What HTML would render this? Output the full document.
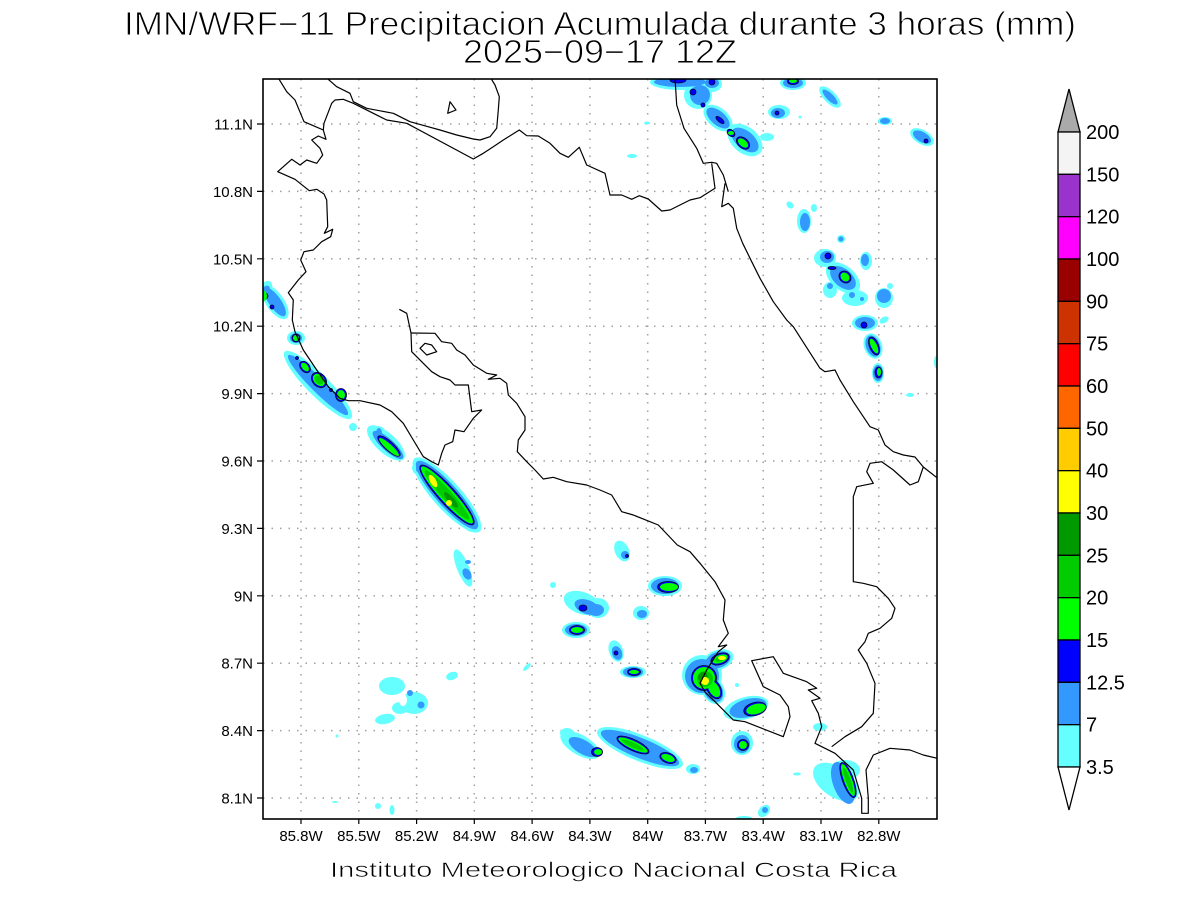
<!DOCTYPE html>
<html><head><meta charset="utf-8"><style>
html,body{margin:0;padding:0;background:#fff;}
svg{display:block;}
text{font-family:"Liberation Sans",sans-serif;fill:#000;}
</style></head><body>
<svg width="1200" height="900" viewBox="0 0 1200 900" xmlns="http://www.w3.org/2000/svg">
<defs><clipPath id="pc"><rect x="263" y="79" width="674" height="740"/></clipPath></defs>
<rect width="1200" height="900" fill="#fff"/>

<!-- titles -->
<text x="124" y="35" font-size="33" textLength="952" lengthAdjust="spacingAndGlyphs" fill="#111" stroke="#fff" stroke-width="0.9">IMN/WRF−11 Precipitacion Acumulada durante 3 horas (mm)</text>
<text x="463" y="63" font-size="33" textLength="274" lengthAdjust="spacingAndGlyphs" fill="#111" stroke="#fff" stroke-width="0.9">2025−09−17 12Z</text>

<!-- grid -->
<g stroke="#a0a0a0" stroke-width="1.5" stroke-dasharray="1.5 7" fill="none">
<path d="M301 79V819M358.8 79V819M416.6 79V819M474.3 79V819M532.1 79V819M589.9 79V819M647.7 79V819M705.4 79V819M763.2 79V819M821 79V819M878.8 79V819"/>
<path d="M263 124H937M263 191.4H937M263 258.8H937M263 326.2H937M263 393.6H937M263 461H937M263 528.4H937M263 595.8H937M263 663.2H937M263 730.6H937M263 798H937"/>
</g>

<g clip-path="url(#pc)">
<!-- cyan -->
<g fill="#66ffff">
<ellipse cx="275" cy="302" rx="20" ry="9" transform="rotate(55 275 302)"/>
<ellipse cx="296" cy="338" rx="9" ry="7"/>
<ellipse cx="265" cy="290" rx="6" ry="10" transform="rotate(30 265 290)"/>
<ellipse cx="318" cy="385" rx="47" ry="11" transform="rotate(45 318 385)"/>
<circle cx="353" cy="427" r="4"/>
<ellipse cx="386" cy="443" rx="24" ry="10" transform="rotate(42 386 443)"/>
<ellipse cx="378" cy="432" rx="7" ry="6"/>
<ellipse cx="447" cy="495" rx="49" ry="14" transform="rotate(48 447 495)"/>
<ellipse cx="470" cy="525" rx="10" ry="6" transform="rotate(30 470 525)"/>
<ellipse cx="421" cy="468" rx="9" ry="8"/>
<ellipse cx="463" cy="568" rx="20" ry="6" transform="rotate(68 463 568)"/>
<circle cx="553" cy="585" r="3"/>
<ellipse cx="582" cy="603" rx="19" ry="11" transform="rotate(20 582 603)"/>
<ellipse cx="576" cy="630" rx="14" ry="8"/>
<ellipse cx="527" cy="667" rx="5" ry="2" transform="rotate(-45 527 667)"/>
<ellipse cx="452" cy="676" rx="6" ry="4" transform="rotate(-20 452 676)"/>
<ellipse cx="392" cy="686" rx="13" ry="9"/>
<ellipse cx="414" cy="703" rx="14" ry="11"/>
<ellipse cx="385" cy="719" rx="10" ry="5" transform="rotate(-10 385 719)"/>
<ellipse cx="400" cy="708" rx="8" ry="6"/>
<circle cx="337" cy="736" r="1.5"/>
<ellipse cx="580" cy="745" rx="22" ry="10" transform="rotate(30 580 745)"/>
<ellipse cx="567" cy="733" rx="7" ry="5"/>
<ellipse cx="335" cy="802" rx="3" ry="1"/>
<circle cx="378" cy="806" r="3"/>
<ellipse cx="392" cy="810" rx="2.5" ry="5"/>
<ellipse cx="622" cy="551" rx="7" ry="11" transform="rotate(-25 622 551)"/>
<ellipse cx="665" cy="586" rx="17" ry="10"/>
<ellipse cx="598" cy="608" rx="11" ry="10"/>
<ellipse cx="641" cy="613" rx="8" ry="7"/>
<ellipse cx="616" cy="651" rx="7" ry="11" transform="rotate(-20 616 651)"/>
<ellipse cx="633" cy="672" rx="13" ry="6"/>
<ellipse cx="718" cy="660" rx="16" ry="10" transform="rotate(-20 718 660)"/>
<ellipse cx="702" cy="675" rx="20" ry="20"/>
<ellipse cx="713" cy="690" rx="11" ry="15" transform="rotate(-30 713 690)"/>
<circle cx="737" cy="685" r="2"/>
<ellipse cx="746" cy="708" rx="23" ry="11" transform="rotate(-15 746 708)"/>
<ellipse cx="742" cy="743" rx="11" ry="12"/>
<ellipse cx="820" cy="727" rx="7" ry="4"/>
<ellipse cx="640" cy="748" rx="46" ry="13" transform="rotate(22 640 748)"/>
<ellipse cx="693" cy="769" rx="7" ry="5"/>
<ellipse cx="836" cy="782" rx="26" ry="15" transform="rotate(35 836 782)"/>
<ellipse cx="845" cy="770" rx="15" ry="10"/>
<ellipse cx="764" cy="811" rx="7" ry="5" transform="rotate(-45 764 811)"/>
<ellipse cx="744" cy="818" rx="8" ry="2"/>
<ellipse cx="797" cy="774" rx="4" ry="1.5"/>
<ellipse cx="680" cy="82" rx="30" ry="8"/>
<ellipse cx="712" cy="84" rx="10" ry="8"/>
<ellipse cx="698" cy="95" rx="14" ry="14"/>
<ellipse cx="718" cy="118" rx="17" ry="10" transform="rotate(40 718 118)"/>
<ellipse cx="745" cy="140" rx="20" ry="13" transform="rotate(40 745 140)"/>
<ellipse cx="767" cy="137" rx="7" ry="4"/>
<ellipse cx="793" cy="83" rx="13" ry="7"/>
<ellipse cx="830" cy="97" rx="14" ry="6" transform="rotate(45 830 97)"/>
<ellipse cx="779" cy="112" rx="11" ry="7"/>
<circle cx="800" cy="117" r="1.5"/>
<ellipse cx="647" cy="123" rx="3" ry="1.5"/>
<ellipse cx="632" cy="156" rx="5" ry="2"/>
<ellipse cx="885" cy="121" rx="7" ry="4"/>
<ellipse cx="922" cy="137" rx="13" ry="7" transform="rotate(30 922 137)"/>
<ellipse cx="790" cy="205" rx="4" ry="3" transform="rotate(45 790 205)"/>
<ellipse cx="804" cy="221" rx="7" ry="12"/>
<ellipse cx="814" cy="208" rx="3" ry="4"/>
<circle cx="841" cy="239" r="4"/>
<ellipse cx="825" cy="258" rx="11" ry="9"/>
<ellipse cx="866" cy="261" rx="6" ry="9"/>
<ellipse cx="843" cy="278" rx="20" ry="12" transform="rotate(40 843 278)"/>
<ellipse cx="830" cy="290" rx="7" ry="8"/>
<ellipse cx="855" cy="298" rx="13" ry="8"/>
<ellipse cx="884" cy="298" rx="9" ry="10"/>
<circle cx="890" cy="286" r="3"/>
<ellipse cx="865" cy="323" rx="13" ry="8"/>
<ellipse cx="884" cy="320" rx="5" ry="3" transform="rotate(-30 884 320)"/>
<ellipse cx="873" cy="346" rx="9" ry="13" transform="rotate(-20 873 346)"/>
<ellipse cx="878" cy="373" rx="6" ry="10"/>
<ellipse cx="910" cy="395" rx="4" ry="2"/>
<ellipse cx="936" cy="362" rx="2" ry="6"/>
</g>
<!-- holes -->
<ellipse cx="403" cy="700" rx="4" ry="6" fill="#fff"/>
<!-- light blue -->
<g fill="#3399ff">
<ellipse cx="275" cy="302" rx="17" ry="6" transform="rotate(55 275 302)"/>
<ellipse cx="296" cy="338" rx="6" ry="5"/>
<ellipse cx="265" cy="292" rx="4" ry="7" transform="rotate(30 265 292)"/>
<ellipse cx="318" cy="385" rx="42" ry="7" transform="rotate(45 318 385)"/>
<ellipse cx="388" cy="445" rx="20" ry="6" transform="rotate(42 388 445)"/>
<ellipse cx="379" cy="433" rx="3" ry="5"/>
<ellipse cx="447" cy="495" rx="45" ry="11" transform="rotate(48 447 495)"/>
<ellipse cx="470" cy="523" rx="7" ry="4" transform="rotate(30 470 523)"/>
<ellipse cx="422" cy="469" rx="6" ry="5"/>
<ellipse cx="467" cy="574" rx="6" ry="4" transform="rotate(60 467 574)"/>
<ellipse cx="468" cy="562" rx="3" ry="2"/>
<ellipse cx="587" cy="607" rx="13" ry="7" transform="rotate(20 587 607)"/>
<ellipse cx="576" cy="630" rx="11" ry="6"/>
<circle cx="410" cy="693" r="3"/>
<circle cx="421" cy="705" r="3.5"/>
<ellipse cx="583" cy="747" rx="16" ry="7" transform="rotate(30 583 747)"/>
<ellipse cx="625" cy="555" rx="4" ry="4"/>
<ellipse cx="665" cy="586" rx="14" ry="8"/>
<ellipse cx="596" cy="610" rx="8" ry="6"/>
<ellipse cx="642" cy="614" rx="5" ry="4"/>
<ellipse cx="617" cy="653" rx="5" ry="7" transform="rotate(-20 617 653)"/>
<ellipse cx="633" cy="672" rx="10" ry="5"/>
<ellipse cx="718" cy="660" rx="13" ry="8" transform="rotate(-20 718 660)"/>
<ellipse cx="702" cy="676" rx="17" ry="17"/>
<ellipse cx="713" cy="690" rx="9" ry="13" transform="rotate(-30 713 690)"/>
<ellipse cx="748" cy="708" rx="19" ry="9" transform="rotate(-15 748 708)"/>
<ellipse cx="742" cy="744" rx="8" ry="9"/>
<ellipse cx="640" cy="748" rx="42" ry="10" transform="rotate(22 640 748)"/>
<ellipse cx="694" cy="770" rx="4" ry="3"/>
<ellipse cx="843" cy="783" rx="10" ry="22" transform="rotate(-20 843 783)"/>
<ellipse cx="765" cy="810" rx="3" ry="3"/>
<ellipse cx="680" cy="82" rx="26" ry="5"/>
<ellipse cx="712" cy="83" rx="7" ry="5"/>
<ellipse cx="700" cy="95" rx="10" ry="10"/>
<ellipse cx="718" cy="118" rx="14" ry="7" transform="rotate(40 718 118)"/>
<ellipse cx="745" cy="140" rx="16" ry="9" transform="rotate(40 745 140)"/>
<ellipse cx="793" cy="83" rx="10" ry="5"/>
<ellipse cx="830" cy="97" rx="10" ry="3.5" transform="rotate(45 830 97)"/>
<ellipse cx="778" cy="113" rx="7" ry="5"/>
<ellipse cx="885" cy="121" rx="5" ry="3"/>
<ellipse cx="922" cy="137" rx="10" ry="5" transform="rotate(30 922 137)"/>
<ellipse cx="805" cy="222" rx="5" ry="9"/>
<circle cx="841" cy="239" r="2.5"/>
<ellipse cx="827" cy="257" rx="7" ry="6"/>
<ellipse cx="865" cy="260" rx="4" ry="6"/>
<ellipse cx="843" cy="278" rx="15" ry="9" transform="rotate(40 843 278)"/>
<circle cx="830" cy="286" r="3"/>
<circle cx="852" cy="295" r="3"/>
<circle cx="862" cy="299" r="2"/>
<ellipse cx="884" cy="296" rx="7" ry="7"/>
<ellipse cx="865" cy="323" rx="10" ry="6"/>
<ellipse cx="873" cy="346" rx="7" ry="11" transform="rotate(-20 873 346)"/>
<ellipse cx="878" cy="373" rx="5" ry="8"/>
</g>
<!-- blue (thin rings around green) -->
<g fill="#0000ff" stroke="#000033" stroke-width="0.8">
<circle cx="265" cy="296" r="3"/>
<circle cx="272" cy="307" r="2"/>
<circle cx="296" cy="338" r="4"/>
<ellipse cx="305" cy="367" rx="6.5" ry="4.5" transform="rotate(50 305 367)"/>
<ellipse cx="319" cy="380" rx="8.5" ry="6.5" transform="rotate(45 319 380)"/>
<ellipse cx="341" cy="395" rx="5.5" ry="6.5"/>
<circle cx="297" cy="358" r="1.5"/>
<circle cx="331" cy="390" r="1.5"/>
<ellipse cx="389" cy="446" rx="14.5" ry="4.5" transform="rotate(42 389 446)"/>
<ellipse cx="447" cy="495" rx="39.5" ry="8.5" transform="rotate(48 447 495)"/>
<ellipse cx="583" cy="608" rx="4" ry="3"/>
<ellipse cx="577" cy="630" rx="7.5" ry="4.5"/>
<ellipse cx="597" cy="752" rx="5.5" ry="4.5"/>
<circle cx="627" cy="556" r="1.5"/>
<ellipse cx="668" cy="587" rx="10.5" ry="5.5"/>
<circle cx="616" cy="653" r="2"/>
<ellipse cx="634" cy="672" rx="6.5" ry="3.5"/>
<ellipse cx="720" cy="659" rx="9.5" ry="5.5" transform="rotate(-20 720 659)"/>
<ellipse cx="704" cy="678" rx="12.5" ry="12.5"/>
<ellipse cx="714" cy="689" rx="6.5" ry="10.5" transform="rotate(-30 714 689)"/>
<ellipse cx="755" cy="709" rx="11.5" ry="6.5" transform="rotate(-15 755 709)"/>
<ellipse cx="743" cy="745" rx="5.5" ry="5.5"/>
<ellipse cx="633" cy="745" rx="17.5" ry="5.5" transform="rotate(25 633 745)"/>
<ellipse cx="668" cy="758" rx="8.5" ry="5" transform="rotate(20 668 758)"/>
<ellipse cx="848" cy="780" rx="5.5" ry="18.5" transform="rotate(-20 848 780)"/>
<ellipse cx="678" cy="80" rx="8" ry="3"/>
<circle cx="712" cy="82" r="3"/>
<circle cx="693" cy="92" r="3"/>
<circle cx="703" cy="105" r="2"/>
<ellipse cx="720" cy="120" rx="5" ry="2" transform="rotate(40 720 120)"/>
<ellipse cx="731" cy="133" rx="4.5" ry="3" transform="rotate(40 731 133)"/>
<ellipse cx="743" cy="143" rx="7.5" ry="5" transform="rotate(40 743 143)"/>
<ellipse cx="793" cy="81.5" rx="5.5" ry="3"/>
<circle cx="777" cy="113" r="2"/>
<circle cx="926" cy="141" r="2"/>
<circle cx="828" cy="256" r="3"/>
<ellipse cx="845" cy="277" rx="6.5" ry="5.5" transform="rotate(45 845 277)"/>
<ellipse cx="832" cy="268" rx="4" ry="1.5"/>
<circle cx="864" cy="325" r="3"/>
<ellipse cx="874" cy="346" rx="4.5" ry="9.5" transform="rotate(-22 874 346)"/>
<ellipse cx="878.5" cy="372.5" rx="3.5" ry="5.5"/>
</g>
<!-- lime -->
<g fill="#00ff00">
<ellipse cx="264" cy="296" rx="3" ry="5"/>
<ellipse cx="296" cy="338" rx="3" ry="3"/>
<ellipse cx="305" cy="367" rx="5" ry="3" transform="rotate(50 305 367)"/>
<ellipse cx="319" cy="380" rx="7" ry="5" transform="rotate(45 319 380)"/>
<ellipse cx="341" cy="395" rx="4" ry="5"/>
<ellipse cx="389" cy="447" rx="13" ry="3" transform="rotate(42 389 447)"/>
<ellipse cx="447" cy="495" rx="38" ry="7" transform="rotate(48 447 495)"/>
<ellipse cx="577" cy="630" rx="6" ry="3"/>
<ellipse cx="598" cy="752" rx="4" ry="3"/>
<ellipse cx="669" cy="587" rx="9" ry="4"/>
<ellipse cx="634" cy="672" rx="5" ry="2"/>
<ellipse cx="720" cy="659" rx="8" ry="4" transform="rotate(-20 720 659)"/>
<ellipse cx="704" cy="678" rx="11" ry="11"/>
<ellipse cx="714" cy="689" rx="5" ry="9" transform="rotate(-30 714 689)"/>
<ellipse cx="756" cy="709" rx="10" ry="5" transform="rotate(-15 756 709)"/>
<ellipse cx="743" cy="745" rx="4" ry="4"/>
<ellipse cx="633" cy="745" rx="16" ry="4" transform="rotate(25 633 745)"/>
<ellipse cx="668" cy="758" rx="7" ry="3.5" transform="rotate(20 668 758)"/>
<ellipse cx="848" cy="780" rx="4" ry="17" transform="rotate(-20 848 780)"/>
<ellipse cx="731" cy="133" rx="3" ry="2"/>
<ellipse cx="743" cy="143" rx="6" ry="3.5" transform="rotate(40 743 143)"/>
<ellipse cx="793" cy="81" rx="4" ry="2"/>
<ellipse cx="845" cy="277" rx="5" ry="4" transform="rotate(45 845 277)"/>
<ellipse cx="874" cy="346" rx="3" ry="8" transform="rotate(-25 874 346)"/>
<ellipse cx="879" cy="372" rx="2" ry="4"/>
</g>
<g fill="#00cc00">
<ellipse cx="319" cy="380" rx="5" ry="3.5" transform="rotate(45 319 380)"/>
<ellipse cx="447" cy="495" rx="33" ry="5" transform="rotate(48 447 495)"/>
<ellipse cx="705" cy="679" rx="8" ry="8"/>
<ellipse cx="720" cy="659" rx="5" ry="2.5" transform="rotate(-20 720 659)"/>
<ellipse cx="633" cy="745" rx="12" ry="2.5" transform="rotate(25 633 745)"/>
<ellipse cx="848" cy="780" rx="2.5" ry="13" transform="rotate(-20 848 780)"/>
</g>
<g fill="#009900">
<ellipse cx="451" cy="500" rx="10" ry="3" transform="rotate(48 451 500)"/>
<ellipse cx="703" cy="677" rx="5" ry="5"/>
</g>
<g fill="#ffff00">
<ellipse cx="433" cy="481" rx="3" ry="7" transform="rotate(-30 433 481)"/>
<circle cx="449" cy="503" r="3"/>
<circle cx="705" cy="681" r="4"/>
<ellipse cx="722" cy="658" rx="4" ry="2"/>
</g>

<!-- coastlines and borders -->
<g fill="none" stroke="#000" stroke-width="1.2" stroke-linejoin="round">
<polyline points="278.3,78 286.7,91.7 295,100 304,121.7 323.3,130 326,139.3 318.3,136 311.7,140 320,148.3 322.7,155 316.7,163.3 306.7,160 300,165 291.7,159.3 277.7,171.7 295,179.3 309.3,190.7 316.7,189.3 324,194 326.7,200 327.7,226.7 324.3,233.3 332.7,229.3 330.7,236.7 321.7,241.7 313.3,250 304,251.7 300.7,260 306,271.7 298.3,280 288.3,292.7 293.3,300 292.3,320 295,331.7 303.3,350 316.7,370 328.3,386.7 340,398.3 348.3,400.7 360,400.7 380,405 391.7,411.7 403.3,423.3 413.3,440 423.3,456.7 431.7,461.7 438.3,465 441.7,453.3 445,445 452.7,441.7 455,430 464,431.7 473.3,418.3 481.7,410 471.7,411.7 468.3,385 455,385 450,380 440,376.7 431.7,371.7 423.3,363.3 411.7,351.7 411,333 406.7,313.3 399.3,309.3"/>
<polyline points="411,333 435,333.3 441.7,341.7 451.7,343.3 456.7,350 465,355 473.3,365 486.7,373.3 496.7,375 488.3,379.3 500,378.3 506.7,383.3 508.3,395 516.7,403.3 525,416.7 525,430 518.3,440 517.3,451.7 526.7,461.7 535,470 543.3,479 553.3,477.3 566.7,481.7 586.7,485 600,490 611.7,495 621.7,511.7 633.3,515 658.3,525 677.3,545 690,551.7 700,563.3 715,581.7 725,600 723.3,620 728.3,633.3 718.3,646.7 726.7,645 718.3,651.7 706.7,670 700,683.3 705,692 715,701.7 733.3,720 745,721.7 783.3,736.7 790,716.7 788.3,706.7 780,695 763.3,686.7 751.7,660.7 773.3,656.7 783.3,673.3 806.7,681.7 816.7,688.3 808.3,690 820,698.3 811.7,700.7 818.3,713.3 821.7,726.7 815,743.3 835,753.3 853.3,770 861.7,798.3 861.7,813.3 868.3,813.3 868.3,798.3 866,770 873.3,755 890,748.3 910,750 923.3,755 938,758.5"/>
<polygon points="420,348.3 425,343.3 431.7,345 436.7,351.7 426.7,355"/>
<polyline points="326.7,78 336.7,86.7 350,93.3 353.3,101.7 366.7,108.3 393.3,113.3 410,121.7 440,130 456.7,135 473.3,139 480,140 490,136.7 496.7,128.3 498.3,110 499.3,96.7 495,85 490.7,78"/>
<polygon points="447.7,113.3 450,101.7 456,110"/>
<polyline points="323.3,130 324,123.3 331.7,103.3 335,100 343.3,99.3 353.3,103.3 373.3,113.3 386.7,120 406.7,123.3 473.3,159 483.3,153.3 493.3,146.7 503.3,140 519.3,130 526.7,135.7 538.3,136 550,143.3 560,153.3 568.3,157.3 579.3,147.3 586.7,165 605,173.3 610,195 621.7,195 631.7,199.3 639.3,195.7 648.3,199 661.7,211 670,210 690,200 700,197.7 715,188.3 711.7,163.3"/>
<polyline points="675,78 676.7,105 684,128.3 696.7,148.3 703.3,163.3 711.7,162.3 716.7,163.3 723.3,175 728.3,191.7"/>
<polyline points="725,183.3 721.7,206.7 728.3,203.3 733.3,208.3 736.7,228.3 742.7,243.3 751.7,261.7 760,278.3 773.3,301.7 786.7,320 793.3,326.7 820,368.3 825,371.7 835,370 840,380 853.3,401.7 870,426.7 878.3,430 885,445 893.3,451.7 903.3,455 915,457 923.3,467 938,478.5"/>
<polyline points="923.3,467 918.3,481.7 910,485 893.3,470 881.7,461.7 870,463.3 866.7,471.7 873.3,483.3 856.7,486.7 853.3,496.7 853.3,581.7 863.3,583.3 876.7,586.7 888.3,598.3 895,608.3 891.7,618.3 880,628.3 868.3,633.3 865,641.7 858.3,650 866.7,663.3 875,683.3 873.3,713.3 861.7,726.7 845,736.7 831.7,746.7"/>
</g>
</g>

<!-- frame -->
<rect x="263" y="79" width="674" height="740" fill="none" stroke="#000" stroke-width="1.6"/>
<g stroke="#000" stroke-width="1.2">
<path d="M257 124H263M257 191.4H263M257 258.8H263M257 326.2H263M257 393.6H263M257 461H263M257 528.4H263M257 595.8H263M257 663.2H263M257 730.6H263M257 798H263"/>
<path d="M301 819V824M358.8 819V824M416.6 819V824M474.3 819V824M532.1 819V824M589.9 819V824M647.7 819V824M705.4 819V824M763.2 819V824M821 819V824M878.8 819V824"/>
</g>

<!-- y labels -->
<g font-size="15" text-anchor="end">
<text x="253" y="129.5">11.1N</text>
<text x="253" y="196.9">10.8N</text>
<text x="253" y="264.3">10.5N</text>
<text x="253" y="331.7">10.2N</text>
<text x="253" y="399.1">9.9N</text>
<text x="253" y="466.5">9.6N</text>
<text x="253" y="533.9">9.3N</text>
<text x="253" y="601.3">9N</text>
<text x="253" y="668.7">8.7N</text>
<text x="253" y="736.1">8.4N</text>
<text x="253" y="803.5">8.1N</text>
</g>
<!-- x labels -->
<g font-size="15" text-anchor="middle">
<text x="301" y="841">85.8W</text>
<text x="358.8" y="841">85.5W</text>
<text x="416.6" y="841">85.2W</text>
<text x="474.3" y="841">84.9W</text>
<text x="532.1" y="841">84.6W</text>
<text x="589.9" y="841">84.3W</text>
<text x="647.7" y="841">84W</text>
<text x="705.4" y="841">83.7W</text>
<text x="763.2" y="841">83.4W</text>
<text x="821" y="841">83.1W</text>
<text x="878.8" y="841">82.8W</text>
</g>

<text x="330" y="877" font-size="21" textLength="567" lengthAdjust="spacingAndGlyphs" fill="#333" stroke="#fff" stroke-width="0.6">Instituto Meteorologico Nacional Costa Rica</text>

<!-- colorbar -->
<g stroke="#000" stroke-width="1.3">
<polygon points="1058,132 1069,89 1080,132" fill="#aaaaaa"/>
<rect x="1058" y="132" width="22" height="42.33" fill="#f4f4f4"/>
<rect x="1058" y="174.33" width="22" height="42.33" fill="#9933cc"/>
<rect x="1058" y="216.67" width="22" height="42.33" fill="#ff00ff"/>
<rect x="1058" y="259" width="22" height="42.33" fill="#990000"/>
<rect x="1058" y="301.33" width="22" height="42.33" fill="#cc3300"/>
<rect x="1058" y="343.67" width="22" height="42.33" fill="#ff0000"/>
<rect x="1058" y="386" width="22" height="42.33" fill="#ff6600"/>
<rect x="1058" y="428.33" width="22" height="42.33" fill="#ffcc00"/>
<rect x="1058" y="470.67" width="22" height="42.33" fill="#ffff00"/>
<rect x="1058" y="513" width="22" height="42.33" fill="#009900"/>
<rect x="1058" y="555.33" width="22" height="42.33" fill="#00cc00"/>
<rect x="1058" y="597.67" width="22" height="42.33" fill="#00ff00"/>
<rect x="1058" y="640" width="22" height="42.33" fill="#0000ff"/>
<rect x="1058" y="682.33" width="22" height="42.33" fill="#3399ff"/>
<rect x="1058" y="724.67" width="22" height="42.33" fill="#66ffff"/>
<polygon points="1058,767 1069,810 1080,767" fill="#ffffff"/>
</g>
<g font-size="20">
<text x="1086" y="139">200</text>
<text x="1086" y="181.3">150</text>
<text x="1086" y="223.7">120</text>
<text x="1086" y="266">100</text>
<text x="1086" y="308.3">90</text>
<text x="1086" y="350.7">75</text>
<text x="1086" y="393">60</text>
<text x="1086" y="435.3">50</text>
<text x="1086" y="477.7">40</text>
<text x="1086" y="520">30</text>
<text x="1086" y="562.3">25</text>
<text x="1086" y="604.7">20</text>
<text x="1086" y="647">15</text>
<text x="1086" y="689.3">12.5</text>
<text x="1086" y="731.7">7</text>
<text x="1086" y="774">3.5</text>
</g>
</svg>
</body></html>
